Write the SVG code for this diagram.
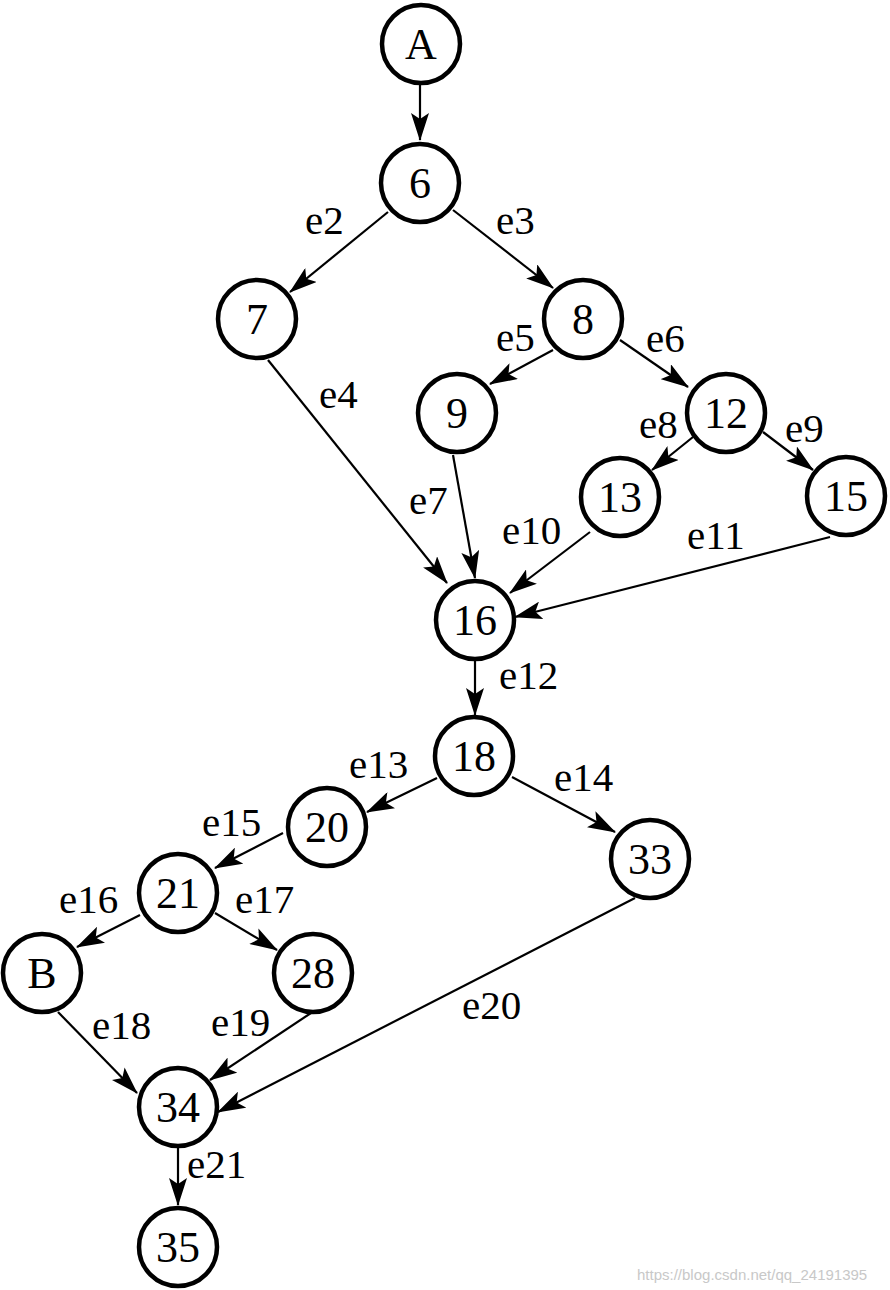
<svg xmlns="http://www.w3.org/2000/svg" width="890" height="1290" viewBox="0 0 890 1290">
<style>
.n circle{fill:#fff;stroke:#000;stroke-width:4.5}
.n text{font-size:44px;text-anchor:middle;fill:#000}
.e path{fill:none;stroke:#000;stroke-width:2.2;marker-end:url(#ah)}
.lbl{font-size:41px;fill:#000}
.wm{font-size:15px;fill:#c8c8c8}
</style>
<defs>
<marker id="ah" viewBox="0 0 28 18" refX="27" refY="9" markerWidth="28" markerHeight="18" markerUnits="userSpaceOnUse" orient="auto">
<path d="M0,0 L28,9 L0,18 L6,9 Z" fill="#000"/>
</marker>
</defs>
<rect width="890" height="1290" fill="#fff"/>
<g id="connectors" class="e">
<path d="M420,83 L420,140"/>
<path d="M388,212 L290,292"/>
<path d="M453,210 L553,288"/>
<path d="M268,360 L447,583"/>
<path d="M553,350 L490,384"/>
<path d="M620,340 L688,387"/>
<path d="M453,455 L475,578"/>
<path d="M693,437 L652,470"/>
<path d="M763,432 L813,470"/>
<path d="M590,532 L510,593"/>
<path d="M830,537 L515,617"/>
<path d="M475,660 L475,715"/>
<path d="M437,778 L367,812"/>
<path d="M512,777 L615,832"/>
<path d="M283,833 L215,868"/>
<path d="M140,915 L77,947"/>
<path d="M215,913 L277,950"/>
<path d="M58,1012 L137,1093"/>
<path d="M311,1013 L210,1080"/>
<path d="M635,898 L218,1112"/>
<path d="M178,1148 L178,1205"/>
</g>
<g font-family="'Liberation Serif', 'Times New Roman', Times, serif">
<g id="labels" class="lbl">
<text x="305" y="234">e2</text>
<text x="496" y="234">e3</text>
<text x="319" y="408">e4</text>
<text x="496" y="351">e5</text>
<text x="646" y="352">e6</text>
<text x="409" y="514">e7</text>
<text x="639" y="438">e8</text>
<text x="785" y="442">e9</text>
<text x="502" y="544">e10</text>
<text x="687" y="549">e11</text>
<text x="499" y="689">e12</text>
<text x="349" y="778">e13</text>
<text x="554" y="791">e14</text>
<text x="202" y="836">e15</text>
<text x="59" y="913">e16</text>
<text x="235" y="913">e17</text>
<text x="92" y="1039">e18</text>
<text x="211" y="1036">e19</text>
<text x="462" y="1019">e20</text>
<text x="187" y="1178">e21</text>
</g>
<g id="nA" class="n"><circle cx="421" cy="44" r="39"/><text x="421" y="59">A</text></g>
<g id="n6" class="n"><circle cx="420" cy="183" r="39"/><text x="420" y="198">6</text></g>
<g id="n7" class="n"><circle cx="257" cy="319" r="39"/><text x="257" y="334">7</text></g>
<g id="n8" class="n"><circle cx="583" cy="319" r="39"/><text x="583" y="334">8</text></g>
<g id="n9" class="n"><circle cx="457" cy="413" r="39"/><text x="457" y="428">9</text></g>
<g id="n12" class="n"><circle cx="726" cy="413" r="39"/><text x="726" y="428">12</text></g>
<g id="n13" class="n"><circle cx="620" cy="497" r="39"/><text x="620" y="512">13</text></g>
<g id="n15" class="n"><circle cx="846" cy="496" r="39"/><text x="846" y="511">15</text></g>
<g id="n16" class="n"><circle cx="475" cy="620" r="39"/><text x="475" y="635">16</text></g>
<g id="n18" class="n"><circle cx="474" cy="756" r="39"/><text x="474" y="771">18</text></g>
<g id="n20" class="n"><circle cx="327" cy="827" r="39"/><text x="327" y="842">20</text></g>
<g id="n33" class="n"><circle cx="650" cy="859" r="39"/><text x="650" y="874">33</text></g>
<g id="n21" class="n"><circle cx="178" cy="893" r="39"/><text x="178" y="908">21</text></g>
<g id="nB" class="n"><circle cx="42" cy="973" r="39"/><text x="42" y="988">B</text></g>
<g id="n28" class="n"><circle cx="313" cy="973" r="39"/><text x="313" y="988">28</text></g>
<g id="n34" class="n"><circle cx="178" cy="1107" r="39"/><text x="178" y="1122">34</text></g>
<g id="n35" class="n"><circle cx="178" cy="1247" r="39"/><text x="178" y="1262">35</text></g>
</g>
<text class="wm" font-family="'Liberation Sans', Arial, sans-serif" x="637" y="1280">https://blog.csdn.net/qq_24191395</text>
</svg>
